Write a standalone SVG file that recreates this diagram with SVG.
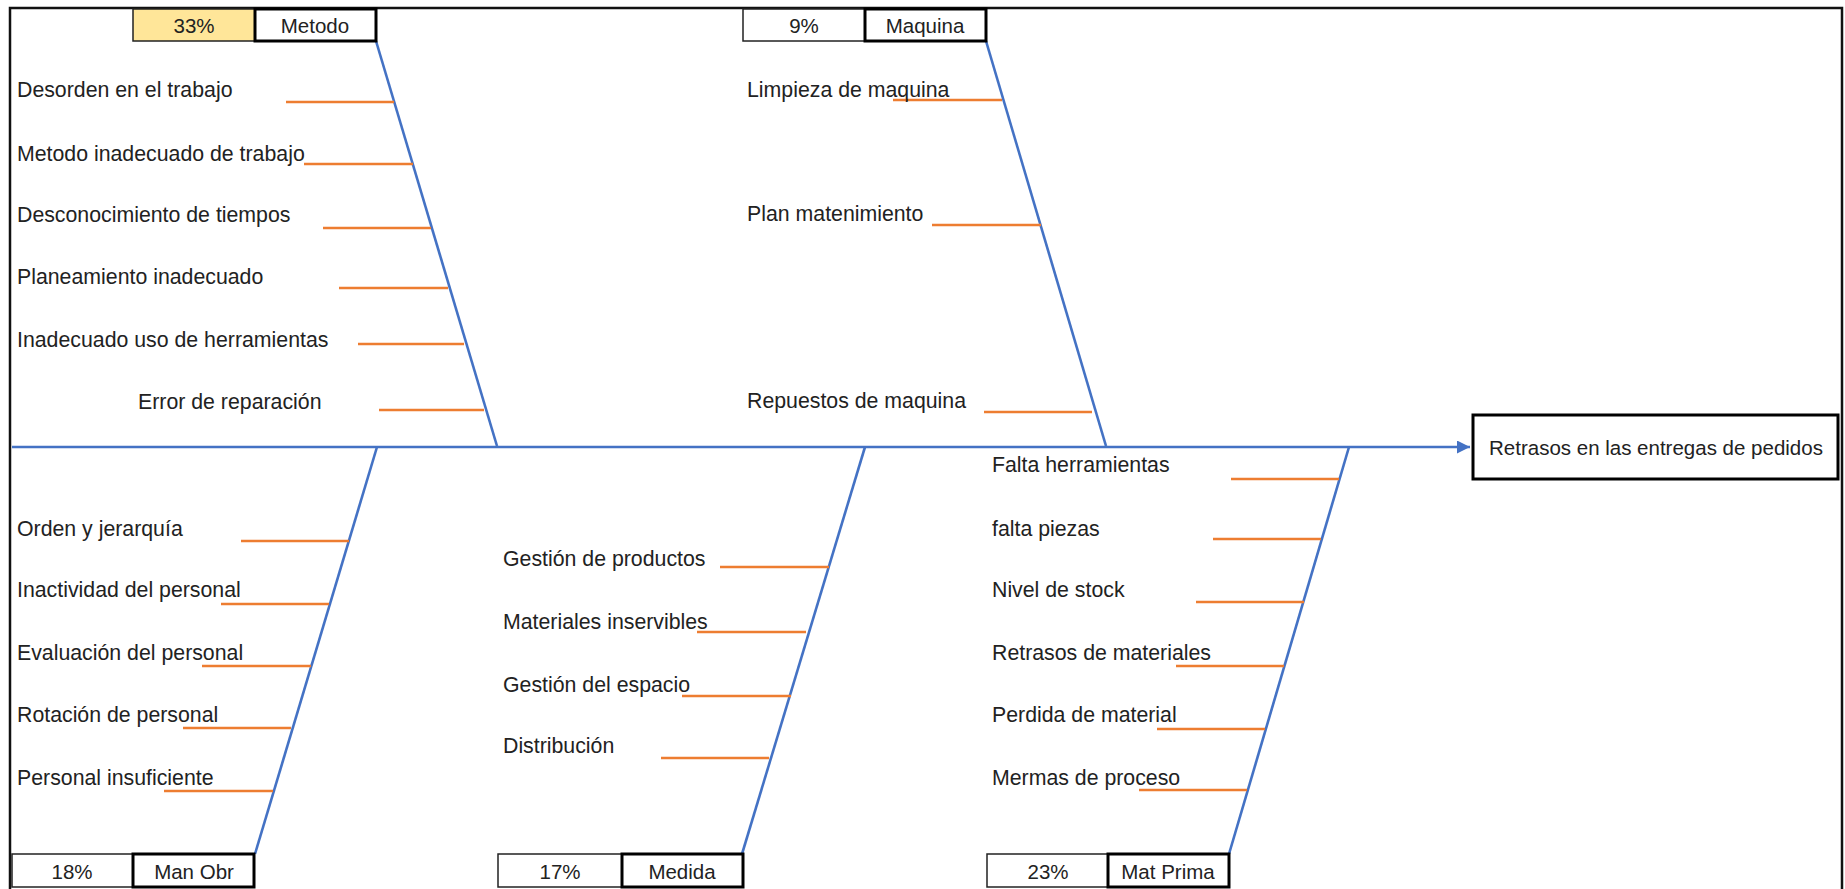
<svg xmlns="http://www.w3.org/2000/svg" width="1845" height="889" viewBox="0 0 1845 889">
<defs>
<style>
text{font-family:"Liberation Sans",Arial,sans-serif;font-size:21.3px;fill:#222}
.c{text-anchor:middle;font-size:20.5px}
.e{font-size:20.5px}
.spine{stroke:#4472C4;stroke-width:2.6;fill:none}
.rib{stroke:#ED7D31;stroke-width:2.6;fill:none}
.cell{fill:#fff;stroke:#222;stroke-width:1.5}
.cellb{fill:#fff;stroke:#000;stroke-width:3}
</style>
<marker id="arr" viewBox="0 0 10 10" refX="10" refY="5" markerWidth="5" markerHeight="5" orient="auto" markerUnits="strokeWidth">
<path d="M0,0 L10,5 L0,10 z" fill="#4472C4"/>
</marker>
</defs>
<rect width="1845" height="889" fill="#fff"/>
<path d="M10,890 L10,8 L1842,8 L1842,890" fill="none" stroke="#111" stroke-width="2.5"/>

<g id="connectors">
<line class="spine" x1="12" y1="447" x2="1470" y2="447" marker-end="url(#arr)"/>
<line class="spine" x1="376" y1="41" x2="497" y2="446"/>
<line class="spine" x1="986" y1="41" x2="1106" y2="446"/>
<line class="spine" x1="377" y1="447" x2="255" y2="854"/>
<line class="spine" x1="865" y1="447" x2="742" y2="854"/>
<line class="spine" x1="1349" y1="447" x2="1229" y2="854"/>
</g>

<g id="node-metodo">
<rect x="133" y="9" width="122" height="32" fill="#FFE699" stroke="#222" stroke-width="1.5"/>
<rect class="cellb" x="255" y="9" width="121" height="32"/>
<text class="c" x="194" y="33">33%</text>
<text class="c" x="315" y="33">Metodo</text>
<line class="rib" x1="286" y1="102" x2="394" y2="102"/>
<line class="rib" x1="304" y1="164" x2="413" y2="164"/>
<line class="rib" x1="323" y1="228" x2="431" y2="228"/>
<line class="rib" x1="339" y1="288" x2="448" y2="288"/>
<line class="rib" x1="358" y1="344" x2="464" y2="344"/>
<line class="rib" x1="379" y1="410" x2="484" y2="410"/>
<text x="17" y="97">Desorden en el trabajo</text>
<text x="17" y="161">Metodo inadecuado de trabajo</text>
<text x="17" y="222">Desconocimiento de tiempos</text>
<text x="17" y="284">Planeamiento inadecuado</text>
<text x="17" y="347">Inadecuado uso de herramientas</text>
<text x="138" y="409">Error de reparación</text>
</g>

<g id="node-maquina">
<rect class="cell" x="743" y="9" width="122" height="32"/>
<rect class="cellb" x="865" y="9" width="121" height="32"/>
<text class="c" x="804" y="33">9%</text>
<text class="c" x="925" y="33">Maquina</text>
<line class="rib" x1="893" y1="100" x2="1002" y2="100"/>
<line class="rib" x1="932" y1="225" x2="1041" y2="225"/>
<line class="rib" x1="984" y1="412" x2="1092" y2="412"/>
<text x="747" y="97">Limpieza de maquina</text>
<text x="747" y="221">Plan matenimiento</text>
<text x="747" y="408">Repuestos de maquina</text>
</g>

<g id="node-manobr">
<rect class="cell" x="12" y="854" width="121" height="33"/>
<rect class="cellb" x="133" y="854" width="121" height="33"/>
<text class="c" x="72" y="879">18%</text>
<text class="c" x="194" y="879">Man Obr</text>
<line class="rib" x1="241" y1="541" x2="349" y2="541"/>
<line class="rib" x1="221" y1="604" x2="329" y2="604"/>
<line class="rib" x1="202" y1="666" x2="311" y2="666"/>
<line class="rib" x1="183" y1="728" x2="291" y2="728"/>
<line class="rib" x1="164" y1="791" x2="273" y2="791"/>
<text x="17" y="536">Orden y jerarquía</text>
<text x="17" y="597">Inactividad del personal</text>
<text x="17" y="660">Evaluación del personal</text>
<text x="17" y="722">Rotación de personal</text>
<text x="17" y="785">Personal insuficiente</text>
</g>

<g id="node-medida">
<rect class="cell" x="498" y="854" width="124" height="33"/>
<rect class="cellb" x="622" y="854" width="121" height="33"/>
<text class="c" x="560" y="879">17%</text>
<text class="c" x="682" y="879">Medida</text>
<line class="rib" x1="720" y1="567" x2="829" y2="567"/>
<line class="rib" x1="697" y1="632" x2="806" y2="632"/>
<line class="rib" x1="682" y1="696" x2="791" y2="696"/>
<line class="rib" x1="661" y1="758" x2="769" y2="758"/>
<text x="503" y="566">Gestión de productos</text>
<text x="503" y="629">Materiales inservibles</text>
<text x="503" y="692">Gestión del espacio</text>
<text x="503" y="753">Distribución</text>
</g>

<g id="node-matprima">
<rect class="cell" x="987" y="854" width="121" height="33"/>
<rect class="cellb" x="1108" y="854" width="121" height="33"/>
<text class="c" x="1048" y="879">23%</text>
<text class="c" x="1168" y="879">Mat Prima</text>
<line class="rib" x1="1231" y1="479" x2="1339" y2="479"/>
<line class="rib" x1="1213" y1="539" x2="1321" y2="539"/>
<line class="rib" x1="1196" y1="602" x2="1304" y2="602"/>
<line class="rib" x1="1176" y1="666" x2="1284" y2="666"/>
<line class="rib" x1="1157" y1="729" x2="1265" y2="729"/>
<line class="rib" x1="1139" y1="790" x2="1247" y2="790"/>
<text x="992" y="472">Falta herramientas</text>
<text x="992" y="536">falta piezas</text>
<text x="992" y="597">Nivel de stock</text>
<text x="992" y="660">Retrasos de materiales</text>
<text x="992" y="722">Perdida de material</text>
<text x="992" y="785">Mermas de proceso</text>
</g>

<g id="node-effect">
<rect class="cellb" x="1473" y="415" width="365" height="64"/>
<text class="e" x="1489" y="455">Retrasos en las entregas de pedidos</text>
</g>
</svg>
